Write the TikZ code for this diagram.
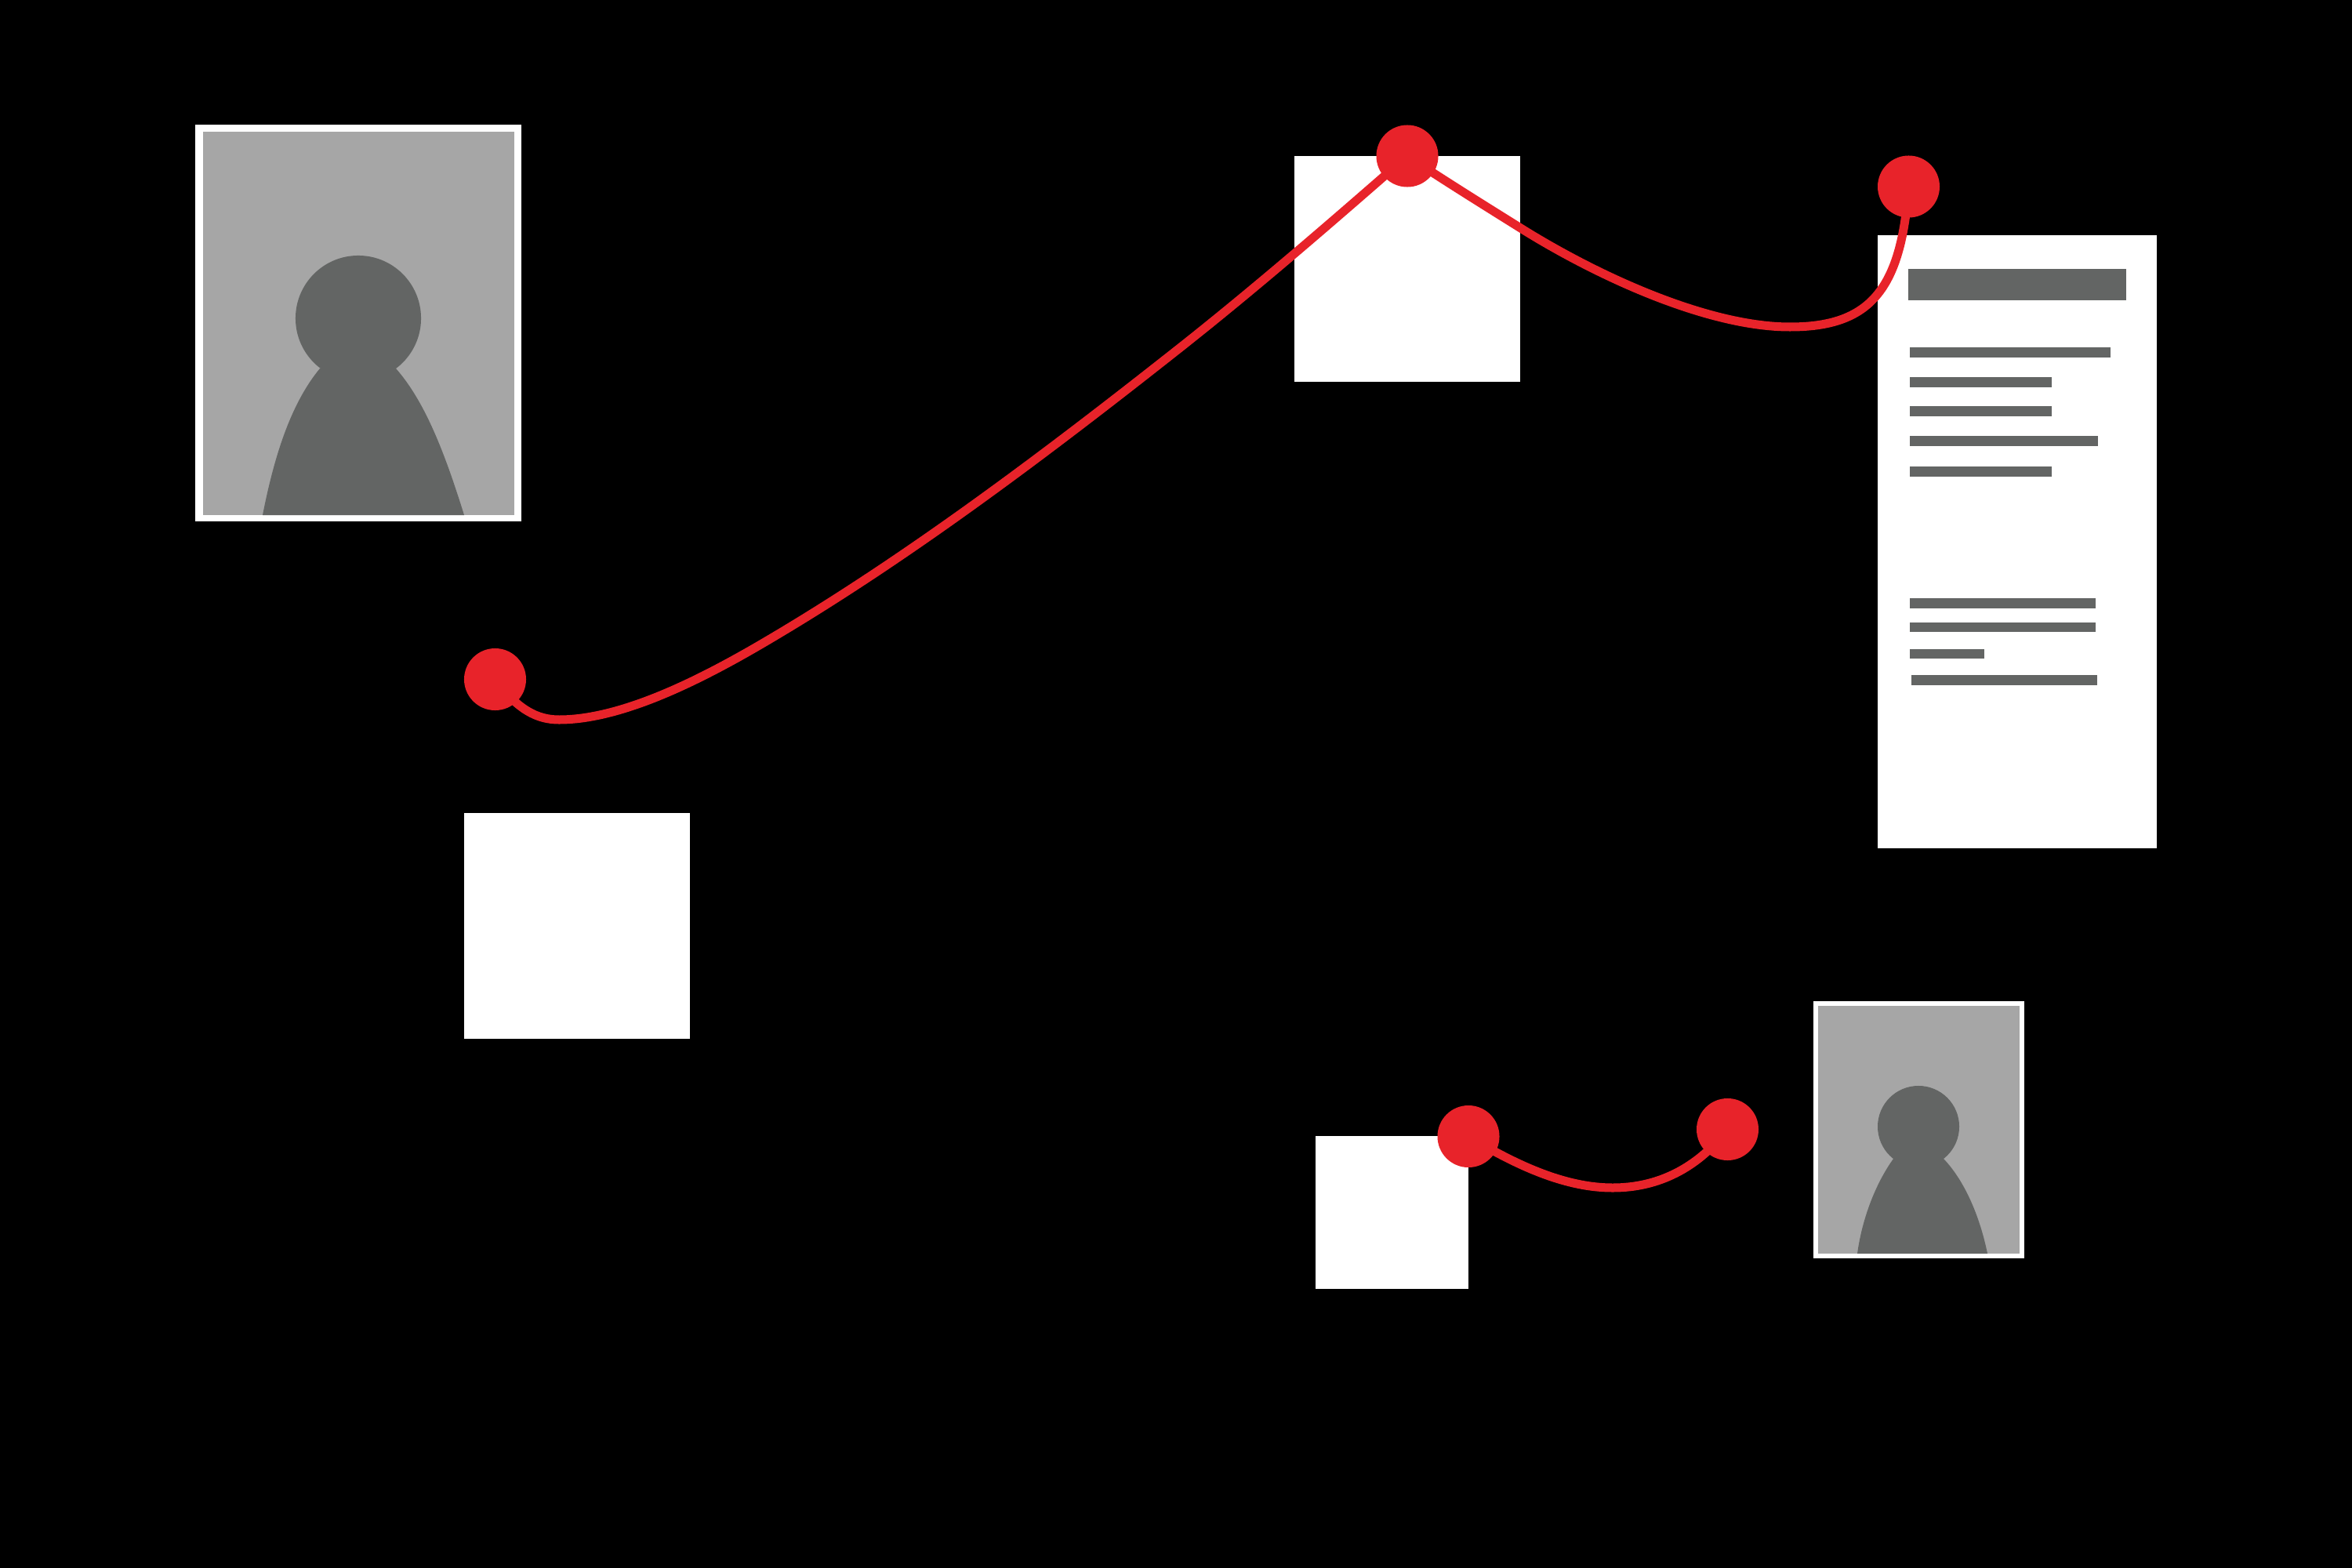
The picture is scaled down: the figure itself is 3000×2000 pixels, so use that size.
\documentclass[tikz,border=0pt]{standalone}
\definecolor{pinred}{HTML}{E8232A}
\definecolor{photogray}{HTML}{A6A6A6}
\definecolor{darkgray}{HTML}{636564}
\tikzset{
  x=0.01cm,y=-0.01cm,
  pin/.style={circle,fill=pinred,draw=none,minimum size=0.79cm,inner sep=0pt,outer sep=0pt},
  sheet/.style={rectangle,fill=white,draw=none,inner sep=0pt,outer sep=0pt,anchor=north west},
  link/.style={draw=pinred,line width=0.11cm,line cap=butt,line join=round},
  textbar/.style={fill=darkgray,draw=none},
  figure/.style={fill=darkgray,draw=none}
}
\begin{document}
\begin{tikzpicture}
\path[use as bounding box,fill=black] (0,0) rectangle (3000,2000);
% large portrait
\fill[white] (249,159) rectangle (665,665);
\fill[photogray] (259,168) rectangle (656,657);
\fill[figure] (457,406) circle [radius=0.80cm];
\fill[figure] (408,470) .. controls (375,510) and (352,570) .. (335,657) -- (592,657) .. controls (565,570) and (540,510) .. (505,470) -- cycle;
% squares and document
\node[sheet,minimum width=2.875cm,minimum height=2.875cm] (sqtop) at (1651,199) {};
\node[sheet,minimum width=2.875cm,minimum height=2.875cm] (sqleft) at (592,1037) {};
\node[sheet,minimum width=1.95cm,minimum height=1.95cm] (sqsmall) at (1678,1449) {};
\node[sheet,minimum width=3.56cm,minimum height=7.82cm] (doc) at (2395,300) {};
\fill[textbar] (2434,343) rectangle (2712,383);
\fill[textbar] (2436,443) rectangle (2692,455.5);
\fill[textbar] (2436,481) rectangle (2617,494);
\fill[textbar] (2436,518) rectangle (2617,531);
\fill[textbar] (2436,556) rectangle (2676,568.5);
\fill[textbar] (2436,595) rectangle (2617,607.5);
\fill[textbar] (2436,763) rectangle (2673,776);
\fill[textbar] (2436,793.5) rectangle (2673,806);
\fill[textbar] (2436,827.5) rectangle (2531,840);
\fill[textbar] (2438,861) rectangle (2675,874);
% small portrait
\fill[white] (2313,1277) rectangle (2582,1605);
\fill[photogray] (2319,1283) rectangle (2576,1599);
\fill[figure] (2447,1437) circle [radius=0.52cm];
\fill[figure] (2415,1478) .. controls (2392,1510) and (2375,1555) .. (2369,1599) -- (2535,1599) .. controls (2525,1550) and (2505,1505) .. (2479,1478) -- cycle;
% pins
\node[pin] (pinA) at (631.5,866.5) {};
\node[pin] (pinB) at (1795,199) {};
\node[pin] (pinC) at (2434.5,238) {};
\node[pin] (pinD) at (1873,1449.5) {};
\node[pin] (pinE) at (2203.5,1440.5) {};
% connectors
\draw[link] (pinA.center) .. controls (660,905) and (685,918) .. (713,918)
  .. controls (790,918) and (885,871) .. (960,828)
  .. controls (1140,724) and (1317,592) .. (1497,450)
  .. controls (1600,369) and (1700,282) .. (pinB.center);
\draw[link] (pinB.center) .. controls (1845,232) and (1890,260) .. (1938,290)
  .. controls (2040,354) and (2180,417) .. (2283,417)
  .. controls (2385,417) and (2425,370) .. (pinC.center);
\draw[link] (pinD.center) .. controls (1940,1490) and (2000,1515) .. (2057,1515)
  .. controls (2115,1515) and (2165,1490) .. (pinE.center);
\end{tikzpicture}
\end{document}
